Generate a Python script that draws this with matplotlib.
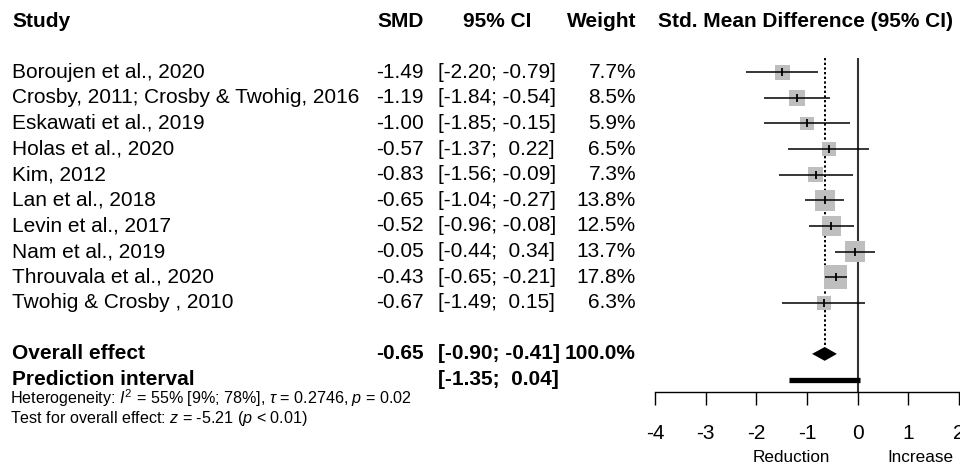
import numpy as np
import matplotlib
matplotlib.use("Agg")
import matplotlib.pyplot as plt
from matplotlib.transforms import blended_transform_factory

plt.rcParams['font.family'] = ['Liberation Sans', 'DejaVu Sans']
plt.rcParams['mathtext.fontset'] = 'custom'
plt.rcParams['mathtext.rm'] = 'Liberation Sans'
plt.rcParams['mathtext.it'] = 'Liberation Sans:italic'

# study-level results
studies = ["Boroujen et al., 2020", "Crosby, 2011; Crosby & Twohig, 2016",
           "Eskawati et al., 2019", "Holas et al., 2020", "Kim, 2012",
           "Lan et al., 2018", "Levin et al., 2017", "Nam et al., 2019",
           "Throuvala et al., 2020", "Twohig & Crosby , 2010"]
smd = [-1.49, -1.19, -1.00, -0.57, -0.83, -0.65, -0.52, -0.05, -0.43, -0.67]
ci_lo = [-2.20, -1.84, -1.85, -1.37, -1.56, -1.04, -0.96, -0.44, -0.65, -1.49]
ci_hi = [-0.79, -0.54, -0.15, 0.22, -0.09, -0.27, -0.08, 0.34, -0.21, 0.15]
weight = [7.7, 8.5, 5.9, 6.5, 7.3, 13.8, 12.5, 13.7, 17.8, 6.3]

# pooled results
overall = -0.65
overall_lo, overall_hi = -0.90, -0.41
pred_lo, pred_hi = -1.35, 0.04
het_text = (r"Heterogeneity: $\mathit{I}^2$ = 55% [9%; 78%], $\tau$ = 0.2746, "
            r"$\mathit{p}$ = 0.02")
test_text = r"Test for overall effect: $z$ = -5.21 ($\mathit{p}$ < 0.01)"

xticks = [-4, -3, -2, -1, 0, 1, 2]

W, H = 960, 467
ROW0, ROW_H = 72.3, 25.6   # pixel y of first study row and row spacing


def row_of(py):
    return (py - ROW0) / ROW_H


fig = plt.figure(figsize=(W / 100, H / 100), dpi=100)
ax = fig.add_axes([655 / W, 0, (959 - 655) / W, 1])
ax.set_xlim(-4, 2)
ax.set_ylim(row_of(H), row_of(0))

rows = np.arange(len(studies))
overall_row = 11
pred_row = 12
axis_row = row_of(392.3)

# reference lines
ax.vlines(0, row_of(58), axis_row, color='#333333', lw=1.5, zorder=1)
ax.vlines(overall, row_of(58), overall_row - 0.27, color='black', lw=1.4,
          linestyles=(0, (1.2, 1.2)), zorder=1)

# confidence intervals, weighted squares and point estimates
ax.hlines(rows, ci_lo, ci_hi, color='black', lw=1.1, zorder=3)
side_pt = 5.5 * np.sqrt(weight) * 0.72
ax.scatter(smd, rows, s=side_pt ** 2, marker='s', color='#BEBEBE',
           edgecolors='none', zorder=2)
ax.scatter(smd, rows, s=6 ** 2, marker='|', color='black', linewidths=1.3,
           zorder=4)

# pooled estimate and prediction interval
ax.fill([overall_lo, overall, overall_hi, overall],
        [overall_row, overall_row - 0.27, overall_row, overall_row + 0.27],
        color='black', lw=0, zorder=3)
ax.hlines(pred_row, pred_lo, pred_hi, color='black', lw=3.8,
          capstyle='butt', zorder=3)

# x axis drawn at its own row
for s in ['left', 'right', 'top']:
    ax.spines[s].set_visible(False)
ax.spines['bottom'].set_position(('data', axis_row))
ax.spines['bottom'].set_linewidth(1.0)
ax.set_yticks([])
ax.set_xticks(xticks)
ax.set_xticklabels([str(t) for t in xticks])
ax.tick_params(axis='x', direction='out', length=9.5, width=1.0,
               labelsize=15, pad=13)
ax.text(-1.3, row_of(457), "Reduction", ha='center', va='center', fontsize=12.3)
ax.text(1.23, row_of(457), "Increase", ha='center', va='center', fontsize=12.3)

# table columns
tr = blended_transform_factory(fig.transFigure, ax.transData)
FS = 15


def put(px, row, s, **kw):
    ax.text(px / W, row, s, transform=tr, va='center', fontsize=FS,
            clip_on=False, **kw)


def fmt_ci(lo, hi):
    f = lambda v: f"{v:.2f}" if v < 0 else f" {v:.2f}"
    return f"[{f(lo)}; {f(hi)}]"


head_row = row_of(22)
put(12, head_row, "Study", weight='bold')
put(424, head_row, "SMD", weight='bold', ha='right')
put(497, head_row, "95% CI", weight='bold', ha='center')
put(636, head_row, "Weight", weight='bold', ha='right')
put(806, head_row, "Std. Mean Difference (95% CI)", weight='bold', ha='center')

for i in rows:
    put(12, i, studies[i])
    put(424, i, f"{smd[i]:.2f}", ha='right')
    put(438, i, fmt_ci(ci_lo[i], ci_hi[i]))
    put(636, i, f"{weight[i]:.1f}%", ha='right')

put(12, overall_row, "Overall effect", weight='bold')
put(424, overall_row, f"{overall:.2f}", weight='bold', ha='right')
put(438, overall_row, fmt_ci(overall_lo, overall_hi), weight='bold')
put(636, overall_row, f"{sum(weight):.1f}%", weight='bold', ha='right')
put(12, pred_row, "Prediction interval", weight='bold')
put(438, pred_row, fmt_ci(pred_lo, pred_hi), weight='bold')

ax.text(10 / W, row_of(398), het_text, transform=tr, va='center',
        fontsize=11.6, clip_on=False)
ax.text(10 / W, row_of(418), test_text, transform=tr, va='center',
        fontsize=11.6, clip_on=False)

fig.savefig("out.png", dpi=100)
